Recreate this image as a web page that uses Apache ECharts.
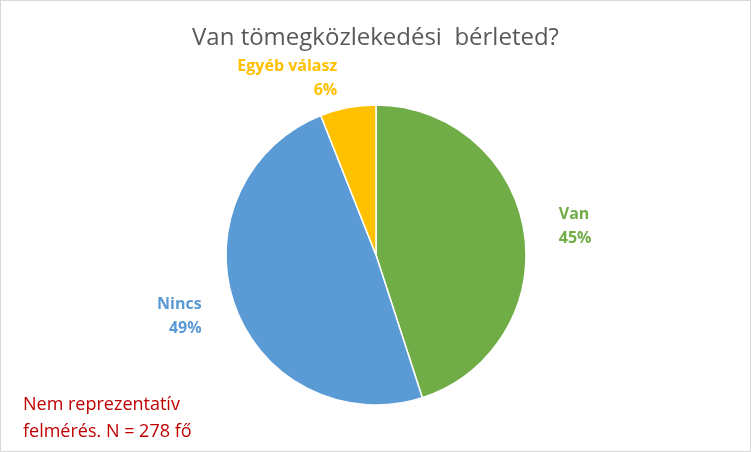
<!DOCTYPE html>
<html><head><meta charset="utf-8">
<script src="https://cdn.jsdelivr.net/npm/echarts@6/dist/echarts.min.js"></script>
<style>html,body{margin:0;padding:0;background:#fff}#c{width:751px;height:452px;box-sizing:border-box;border:1px solid #d9d9d9}</style>
</head><body><div id="c"></div>
<script>
const categories = ['Van', 'Nincs', 'Egyéb válasz'];
const values = [45, 49, 6];
const colors = ['#70AD47', '#5B9BD5', '#FFC000'];
const chart = echarts.init(document.getElementById('c'));
chart.setOption({
  animation: false,
  title: { text: 'Van tömegközlekedési  bérleted?', left: 'center', top: 20,
    textStyle: { fontFamily: 'Open Sans', fontWeight: 'normal', fontSize: 24, color: '#595959' } },
  graphic: [{ type: 'text', left: 22, top: 390, style: { text: 'Nem reprezentatív\nfelmérés. N = 278 fő',
    fill: '#C00000', font: '18px "Open Sans"', lineHeight: 27, align: 'center', x: 95 } }],
  series: [{
    type: 'pie', center: [375, 254], radius: 150, startAngle: 90, clockwise: true,
    data: categories.map((n, i) => ({ name: n, value: values[i], itemStyle: { color: colors[i] },
      label: { color: colors[i] } })),
    itemStyle: { borderColor: '#fff', borderWidth: 1.5 },
    label: { show: true, position: 'outside', formatter: '{b}\n{d}%', fontWeight: 'bold',
      fontSize: 16, fontFamily: 'Open Sans', lineHeight: 24, align: 'center' },
    labelLine: { show: false, length: 30, length2: 0 }
  }]
});
</script></body></html>
